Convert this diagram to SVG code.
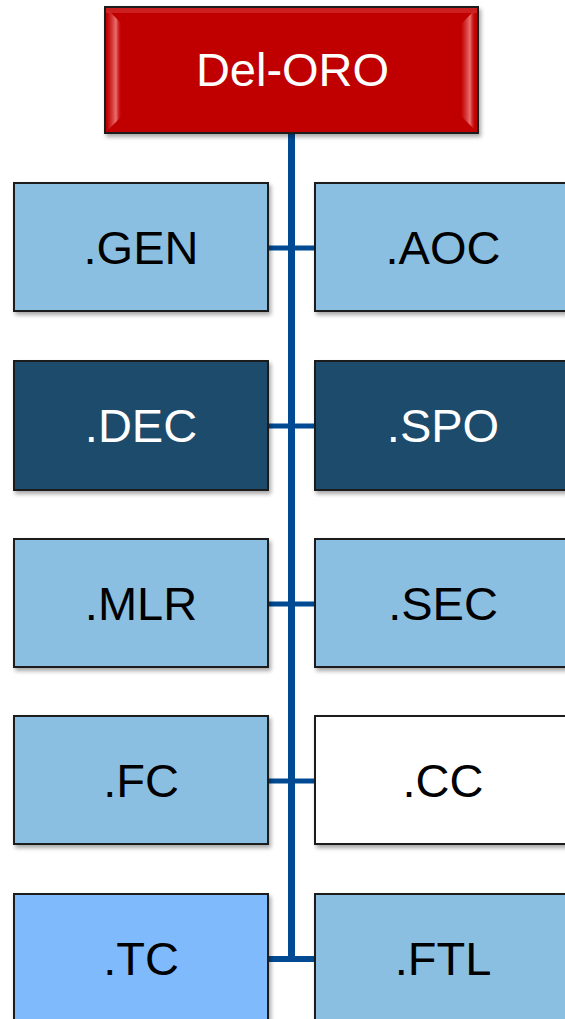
<svg xmlns="http://www.w3.org/2000/svg" width="565" height="1019" viewBox="0 0 565 1019">
<style>
.box{stroke:#1a1a1a;stroke-width:2;filter:url(#sh)}
.lt{fill:#8BBFE1}
.dk{fill:#1D4C6C}
.wh{fill:#FFFFFF}
.tc{fill:#7FBAFD}
.t{font-family:"Liberation Sans",Arial,sans-serif;font-size:47px;text-anchor:middle}
.tb{fill:#000000}
.tw{fill:#FFFFFF}
.ln{stroke:#004A93;fill:none}
</style>
<defs>
<filter id="sh" x="-10%" y="-10%" width="125%" height="130%">
<feGaussianBlur in="SourceAlpha" stdDeviation="2"/>
<feOffset dx="2" dy="3" result="b"/>
<feComponentTransfer><feFuncA type="linear" slope="0.35"/></feComponentTransfer>
<feMerge><feMergeNode/><feMergeNode in="SourceGraphic"/></feMerge>
</filter>
<linearGradient id="bl" x1="0" y1="0" x2="1" y2="0">
<stop offset="0" stop-color="#E86A6A" stop-opacity="0"/>
<stop offset="0.6" stop-color="#F48C8C"/>
<stop offset="1" stop-color="#C00000" stop-opacity="0"/>
</linearGradient>
</defs>
<g id="connectors">
<line class="ln" x1="291.5" y1="133" x2="291.5" y2="962" stroke-width="7"/>
<line class="ln" x1="268" y1="248" x2="315" y2="248" stroke-width="5"/>
<line class="ln" x1="268" y1="426" x2="315" y2="426" stroke-width="5"/>
<line class="ln" x1="268" y1="604" x2="315" y2="604" stroke-width="5"/>
<line class="ln" x1="268" y1="781" x2="315" y2="781" stroke-width="5"/>
<line class="ln" x1="268" y1="959" x2="315" y2="959" stroke-width="6"/>
</g>
<g id="node-delORO">
<rect class="box" x="105" y="7" width="373" height="126" fill="#C00000"/>
<path d="M107 9 L122 24 L122 116 L107 131 Z" fill="url(#bl)" opacity="0.8"/>
<path d="M476 9 L461 24 L461 116 L476 131 Z" fill="url(#bl)" opacity="0.8"/>
<rect x="106" y="8" width="371" height="5" fill="#D84040" opacity="0.5"/>
<text class="t tw" x="292.5" y="86">Del-ORO</text>
</g>
<g id="node-GEN"><rect class="box lt" x="14" y="183" width="254" height="128"/><text class="t tb" x="141" y="264">.GEN</text></g>
<g id="node-AOC"><rect class="box lt" x="315" y="183" width="258" height="128"/><text class="t tb" x="443" y="264">.AOC</text></g>
<g id="node-DEC"><rect class="box dk" x="14" y="361" width="254" height="129"/><text class="t tw" x="141" y="442">.DEC</text></g>
<g id="node-SPO"><rect class="box dk" x="315" y="361" width="258" height="129"/><text class="t tw" x="443" y="442">.SPO</text></g>
<g id="node-MLR"><rect class="box lt" x="14" y="539" width="254" height="128"/><text class="t tb" x="141" y="620">.MLR</text></g>
<g id="node-SEC"><rect class="box lt" x="315" y="539" width="258" height="128"/><text class="t tb" x="443" y="620">.SEC</text></g>
<g id="node-FC"><rect class="box lt" x="14" y="716" width="254" height="128"/><text class="t tb" x="141" y="797">.FC</text></g>
<g id="node-CC"><rect class="box wh" x="315" y="716" width="258" height="128"/><text class="t tb" x="443" y="797">.CC</text></g>
<g id="node-TC"><rect class="box tc" x="14" y="894" width="254" height="135"/><text class="t tb" x="141" y="975">.TC</text></g>
<g id="node-FTL"><rect class="box lt" x="315" y="894" width="258" height="135"/><text class="t tb" x="443" y="975">.FTL</text></g>
</svg>
